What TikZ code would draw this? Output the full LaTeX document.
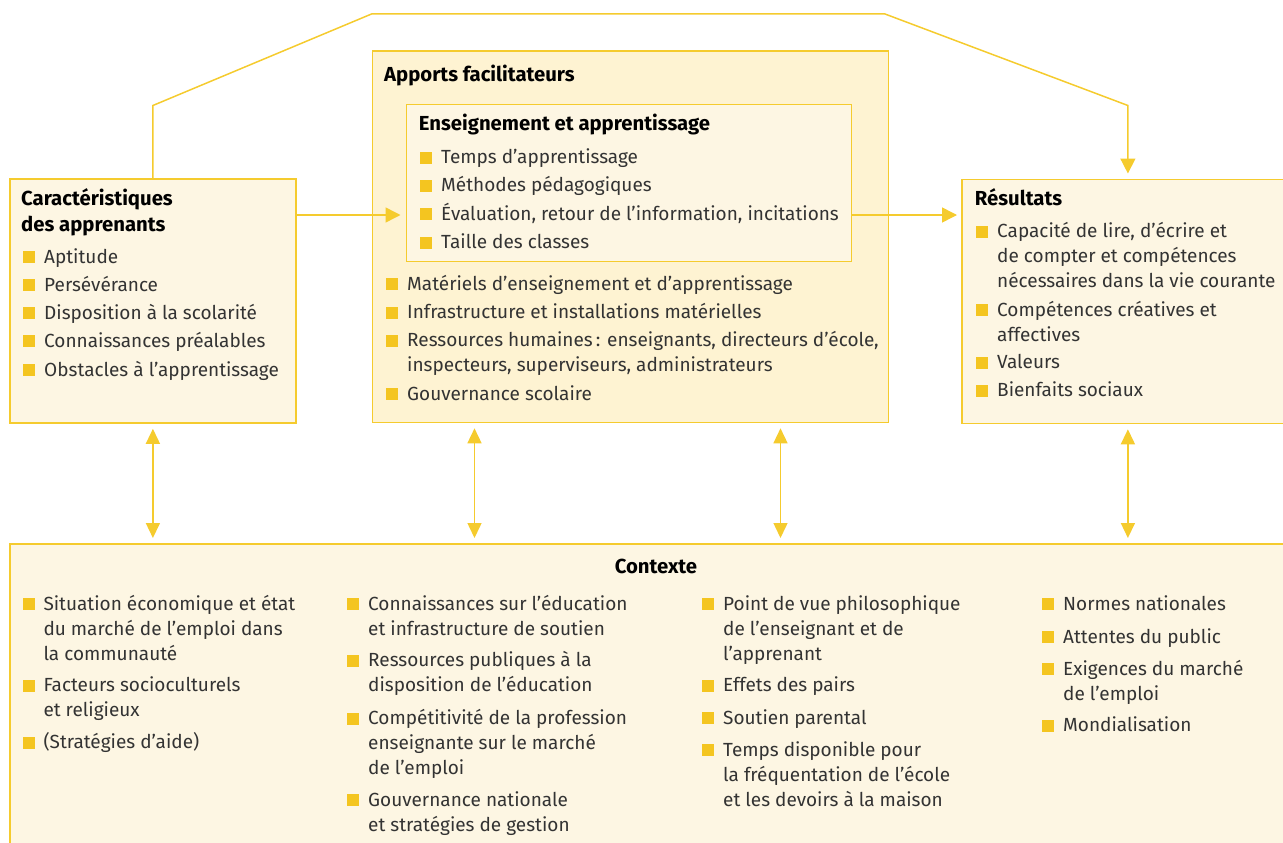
\documentclass[tikz,border=0pt]{standalone}
\usepackage{fontspec}
\setmainfont{Fira Sans}
\usetikzlibrary{arrows.meta,calc}
\definecolor{yel}{HTML}{F5CB2E}
\definecolor{bulc}{HTML}{F4C520}
\definecolor{cream}{HTML}{FDF6E3}
\definecolor{cream2}{HTML}{FEF3D2}
\definecolor{txt}{HTML}{333333}
\newcommand\bitem[4]{\node[bul] (#1b) at (#2-21,#3+0.5) {}; \node[itm] (#1) at (#2,#3) {\begin{tabular}[t]{@{}l@{}}#4\end{tabular}};}
\begin{document}
\begin{tikzpicture}[x=1pt,y=-1pt,
 box/.style={draw=yel, line width=1.8pt, fill=cream, rectangle, inner sep=0pt, anchor=north west},
 conn/.style={draw=yel, line width=1.5pt},
 arr/.style={conn, -{Triangle[width=15pt,length=15pt]}},
 darr/.style={conn, {Triangle[width=14pt,length=15pt]}-{Triangle[width=14pt,length=15pt]}},
 itm/.style={anchor=base west, inner sep=0pt, text=txt, font=\fontsize{19}{25}\selectfont},
 hd/.style={anchor=base west, inner sep=0pt, text=black, font=\fontsize{20.3}{26}\selectfont\bfseries},
 bul/.style={fill=bulc, inner sep=0pt, minimum size=12pt, anchor=south west, rectangle},
]
\useasboundingbox (0,0) rectangle (1283,843);
% boxes
\node[box, minimum width=286pt, minimum height=244pt] (car) at (9,178) {};
\node[box, fill=cream2, minimum width=516pt, minimum height=371pt] (app) at (371.5,50.5) {};
\node[box, minimum width=445pt, minimum height=157pt] (ens) at (405.5,103.5) {};
\node[box, minimum width=332pt, minimum height=244pt] (res) at (961,178.5) {};
\node[box, minimum width=1290pt, minimum height=320pt] (ctx) at (8.7,543) {};
% connectors
\coordinate (h1) at (0,215);
\draw[arr, shorten >=5pt] (car.north) -- (car.north |- 0,105.5) -- (app.north west |- 0,14) -- (885,14) -- (res.north |- 0,105.5) -- (res.north);
\draw[arr, shorten >=5pt] (car.east |- h1) -- (ens.west |- h1);
\draw[arr, shorten >=4pt] (ens.east |- h1) -- (res.west |- h1);
\coordinate (p1) at ($(app.south west)+(103,0)$);
\coordinate (p2) at ($(app.south west)+(409,0)$);
\draw[darr, shorten <=5pt, shorten >=5pt] (car.south) -- (car.south |- ctx.north);
\draw[darr, shorten <=5pt, shorten >=5pt] (p1) -- (p1 |- ctx.north);
\draw[darr, shorten <=5pt, shorten >=5pt] (p2) -- (p2 |- ctx.north);
\draw[darr, shorten <=5pt, shorten >=5pt] (res.south) -- (res.south |- ctx.north);
% headings
\node[hd] (carT) at (21,205) {\begin{tabular}[t]{@{}l@{}}Caractéristiques\\des apprenants\end{tabular}};
\node[hd] (appT) at (384,81.7) {Apports facilitateurs};
\node[hd] (ensT) at (418.7,130.7) {Enseignement et apprentissage};
\node[hd] (resT) at (974.7,205) {Résultats};
\node[hd, anchor=base] (ctxT) at (656,573.3) {Contexte};
% learners
\bitem{c1}{44}{263}{Aptitude}
\bitem{c2}{44}{291}{Persévérance}
\bitem{c3}{44}{319}{Disposition à la scolarité}
\bitem{c4}{44}{347}{Connaissances préalables}
\bitem{c5}{44}{376}{Obstacles à l’apprentissage}
% teaching
\bitem{e1}{441}{163.3}{Temps d’apprentissage}
\bitem{e2}{441}{191.7}{Méthodes pédagogiques}
\bitem{e3}{441}{220}{Évaluation, retour de l’information, incitations}
\bitem{e4}{441}{248.3}{Taille des classes}
\bitem{a1}{407}{290}{Matériels d’enseignement et d’apprentissage}
\bitem{a2}{407}{318.7}{Infrastructure et installations matérielles}
\bitem{a3}{407}{346.7}{Ressources humaines\,: enseignants, directeurs d’école,\\inspecteurs, superviseurs, administrateurs}
\bitem{a4}{407}{400}{Gouvernance scolaire}
% results
\bitem{r1}{997}{237.7}{Capacité de lire, d’écrire et\\de compter et compétences\\nécessaires dans la vie courante}
\bitem{r2}{997}{316}{Compétences créatives et\\affectives}
\bitem{r3}{997}{368.7}{Valeurs}
\bitem{r4}{997}{396.7}{Bienfaits sociaux}
% context col 1
\bitem{k1}{43.3}{610}{Situation économique et état\\du marché de l’emploi dans\\la communauté}
\bitem{k2}{43.3}{691.7}{Facteurs socioculturels\\et religieux}
\bitem{k3}{43.3}{748.3}{(Stratégies d’aide)}
% col 2
\bitem{k4}{368}{610}{Connaissances sur l’éducation\\et infrastructure de soutien}
\bitem{k5}{368}{666.7}{Ressources publiques à la\\disposition de l’éducation}
\bitem{k6}{368}{724.3}{Compétitivité de la profession\\enseignante sur le marché\\de l’emploi}
\bitem{k7}{368}{806}{Gouvernance nationale\\et stratégies de gestion}
% col 3
\bitem{k8}{723}{610}{Point de vue philosophique\\de l’enseignant et de\\l’apprenant}
\bitem{k9}{723}{691.7}{Effets des pairs}
\bitem{k10}{723}{724}{Soutien parental}
\bitem{k11}{723}{756}{Temps disponible pour\\la fréquentation de l’école\\et les devoirs à la maison}
% col 4
\bitem{k12}{1063}{610}{Normes nationales}
\bitem{k13}{1063}{643}{Attentes du public}
\bitem{k14}{1063}{675}{Exigences du marché\\de l’emploi}
\bitem{k15}{1063}{731.7}{Mondialisation}
\end{tikzpicture}
\end{document}
